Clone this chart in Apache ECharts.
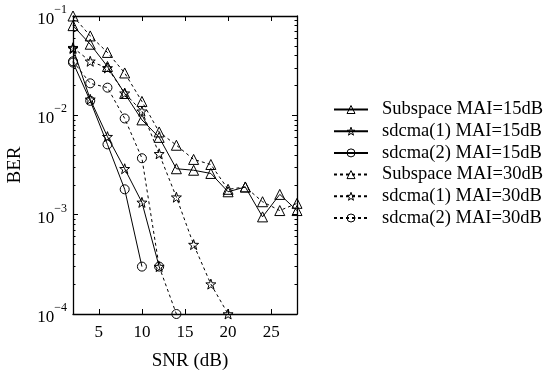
<!DOCTYPE html>
<html><head><meta charset="utf-8">
<script src="https://cdn.jsdelivr.net/npm/echarts@6/dist/echarts.min.js"></script>
<style>html,body{margin:0;padding:0;background:#fff}#c{width:544px;height:376px}</style>
</head><body><div id="c"></div>
<script>
const snr = [2,4,6,8,10,12,14,16,18,20,22,24,26,28];
const xTicks = [5,10,15,20,25];
const yMinor = [2e-4,3e-4,4e-4,5e-4,6e-4,7e-4,8e-4,9e-4,2e-3,3e-3,4e-3,5e-3,6e-3,7e-3,8e-3,9e-3,2e-2,3e-2,4e-2,5e-2,6e-2,7e-2,8e-2,9e-2];
const yMajor = [1e-4,1e-3,1e-2,1e-1];
const subspace15 = [0.080,0.052,0.031,0.0166,0.0090,0.0060,0.0029,0.0028,0.0026,0.0017,0.0019,0.00095,0.0016,0.0011];
const sdcma1_15 = [0.047,0.0145,0.0061,0.0029,0.00133,0.0003];
const sdcma2_15 = [0.034,0.0140,0.0051,0.0018,0.0003];
const subspace30 = [0.100,0.063,0.043,0.0267,0.0138,0.0068,0.0050,0.0036,0.0032,0.0018,0.0019,0.00135,0.0011,0.0013];
const sdcma1_30 = [0.048,0.035,0.030,0.0167,0.011,0.0041,0.0015,0.0005,0.0002,0.0001];
const sdcma2_30 = [0.035,0.021,0.019,0.0093,0.0037,0.0003,0.0001];
const names = ['Subspace MAI=15dB','sdcma(1) MAI=15dB','sdcma(2) MAI=15dB','Subspace MAI=30dB','sdcma(1) MAI=30dB','sdcma(2) MAI=30dB'];

const FONT = "'Liberation Serif','Times New Roman',serif";
const STAR = 'path://M0,-10L2.35,-3.24L9.51,-3.09L3.8,1.24L5.88,8.09L0,4L-5.88,8.09L-3.8,1.24L-9.51,-3.09L-2.35,-3.24Z';
function pairs(vals){ return vals.map((v,i)=>[snr[i], v]); }
function mk(name, vals, symbol, dashed, size){
  return {
    name, type:'line', data:pairs(vals), symbol, symbolSize:size,
    showSymbol:true, animation:false,
    lineStyle:{color:'#000', width:1, type: dashed ? [3,3] : 'solid'},
    itemStyle:{color:'rgba(0,0,0,0)', borderColor:'#000', borderWidth:1},
    emphasis:{disabled:true}
  };
}
const chart = echarts.init(document.getElementById('c'));
const axLine = {show:true, lineStyle:{color:'#000', width:1.3}};
chart.setOption({
  backgroundColor:'#fff',
  animation:false,
  grid:{left:73, right:247, top:16, bottom:56},
  legend:{
    orient:'vertical', left:333, top:100, padding:0, itemWidth:34, itemHeight:10, itemGap:2.7,
    data:names,
    itemStyle:{color:'rgba(0,0,0,0)', borderColor:'#000', borderWidth:1},
    textStyle:{fontFamily:FONT, fontSize:18.5, color:'#000', lineHeight:18, padding:[0,0,0,9]}
  },
  xAxis:[{
    type:'value', min:2, max:28, position:'bottom',
    name:'SNR (dB)', nameLocation:'middle', nameGap:38,
    nameTextStyle:{fontFamily:FONT, fontSize:19, color:'#000', padding:[0,0,0,10]},
    axisLine:axLine, splitLine:{show:false},
    axisTick:{show:true, inside:true, length:5, customValues:xTicks, lineStyle:{color:'#000'}},
    axisLabel:{customValues:xTicks, fontFamily:FONT, fontSize:17, color:'#000', margin:10}
  },{
    type:'value', min:2, max:28, position:'top',
    axisLine:axLine, splitLine:{show:false},
    axisTick:{show:true, inside:true, length:5, customValues:xTicks, lineStyle:{color:'#000'}},
    axisLabel:{show:false}
  }],
  yAxis:[{
    type:'log', logBase:10, min:1e-4, max:0.1, position:'left',
    name:'BER', nameLocation:'middle', nameGap:48,
    nameTextStyle:{fontFamily:FONT, fontSize:19, color:'#000'},
    axisLine:axLine, splitLine:{show:false},
    axisTick:{show:true, inside:true, length:5, customValues:yMajor, lineStyle:{color:'#000'}},
    axisLabel:{customValues:yMajor, margin:6,
      formatter:function(v){ const e=Math.round(Math.log10(v)); return '{b|10}{s|\u2212'+(-e)+'}'; },
      rich:{b:{fontFamily:FONT, fontSize:17, color:'#000', lineHeight:24, verticalAlign:'bottom'},
            s:{fontFamily:FONT, fontSize:12, color:'#000', lineHeight:24, verticalAlign:'top'}}}
  },{
    type:'log', logBase:10, min:1e-4, max:0.1, position:'right',
    axisLine:axLine, splitLine:{show:false},
    axisTick:{show:true, inside:true, length:5, customValues:yMajor, lineStyle:{color:'#000'}},
    axisLabel:{show:false}
  },{
    type:'log', logBase:10, min:1e-4, max:0.1, position:'left',
    axisLine:{show:false}, splitLine:{show:false},
    axisTick:{show:true, inside:true, length:2.5, customValues:yMinor, lineStyle:{color:'#000'}},
    axisLabel:{show:false}
  },{
    type:'log', logBase:10, min:1e-4, max:0.1, position:'right',
    axisLine:{show:false}, splitLine:{show:false},
    axisTick:{show:true, inside:true, length:2.5, customValues:yMinor, lineStyle:{color:'#000'}},
    axisLabel:{show:false}
  }],
  series:[
    mk(names[0], subspace15, 'triangle', false, 10),
    mk(names[1], sdcma1_15, STAR, false, 10),
    mk(names[2], sdcma2_15, 'circle', false, 9),
    mk(names[3], subspace30, 'triangle', true, 10),
    mk(names[4], sdcma1_30, STAR, true, 10),
    mk(names[5], sdcma2_30, 'circle', true, 9)
  ]
});
</script></body></html>
